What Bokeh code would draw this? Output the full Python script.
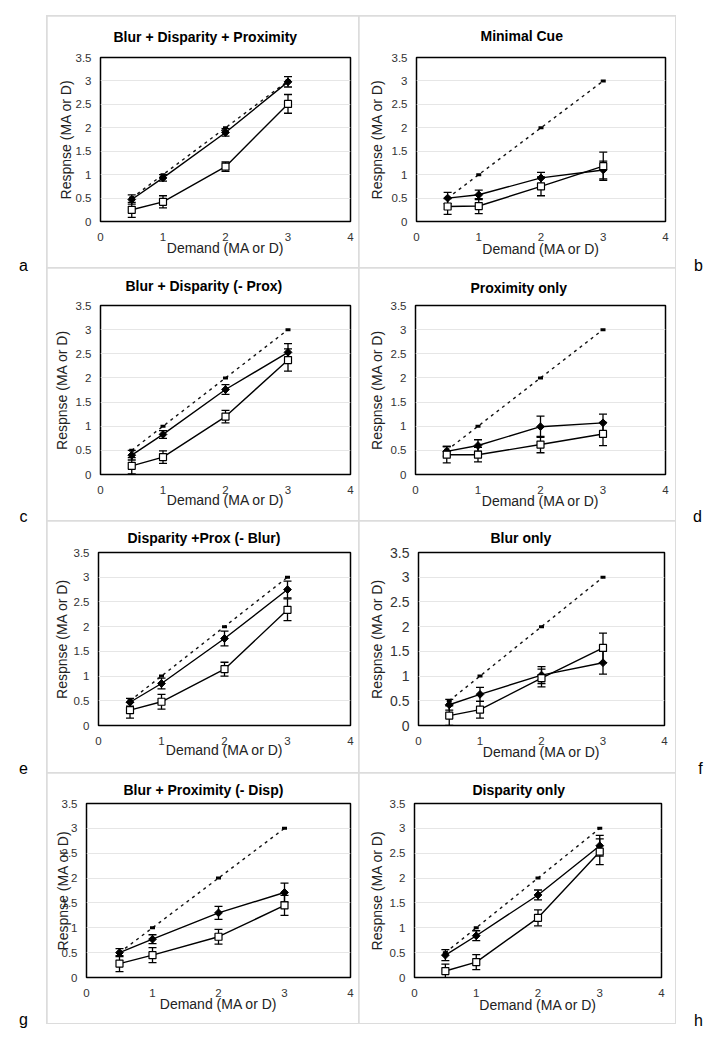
import math
from bokeh.plotting import figure
from bokeh.models import (Range1d, FixedTicker, NumeralTickFormatter, Label,
                          Whisker, TeeHead, ColumnDataSource)
from bokeh.layouts import column, row
from bokeh.embed import file_html
from bokeh.resources import INLINE

# ---------------- data ----------------
demand = [0.5, 1, 2, 3]
ideal = [0.5, 1, 2, 3]
x_ticks = [0, 1, 2, 3, 4]
y_ticks = [0, 0.5, 1, 1.5, 2, 2.5, 3, 3.5]

titles = ["Blur + Disparity + Proximity", "Minimal Cue",
          "Blur + Disparity (- Prox)", "Proximity only",
          "Disparity +Prox (- Blur)", "Blur only",
          "Blur + Proximity (- Disp)", "Disparity only"]
letters = ["a", "b", "c", "d", "e", "f", "g", "h"]
x_label = "Demand (MA or D)"
y_label = "Respnse (MA or D)"

a_filled = [0.47, 0.93, 1.90, 2.98]
a_filled_err = [0.10, 0.07, 0.08, 0.11]
a_open = [0.25, 0.42, 1.17, 2.51]
a_open_err = [0.16, 0.13, 0.10, 0.20]

b_filled = [0.50, 0.57, 0.93, 1.10]
b_filled_err = [0.12, 0.10, 0.12, 0.19]
b_open = [0.32, 0.33, 0.75, 1.18]
b_open_err = [0.17, 0.16, 0.20, 0.30]

c_filled = [0.40, 0.83, 1.76, 2.53]
c_filled_err = [0.10, 0.08, 0.10, 0.18]
c_open = [0.18, 0.36, 1.20, 2.37]
c_open_err = [0.17, 0.13, 0.13, 0.23]

d_filled = [0.48, 0.60, 0.99, 1.07]
d_filled_err = [0.10, 0.12, 0.22, 0.18]
d_open = [0.41, 0.41, 0.62, 0.84]
d_open_err = [0.17, 0.15, 0.17, 0.24]

e_filled = [0.47, 0.85, 1.76, 2.75]
e_filled_err = [0.08, 0.11, 0.15, 0.17]
e_open = [0.31, 0.48, 1.14, 2.34]
e_open_err = [0.16, 0.15, 0.14, 0.22]

f_filled = [0.42, 0.63, 1.02, 1.27]
f_filled_err = [0.11, 0.14, 0.17, 0.23]
f_open = [0.20, 0.32, 0.96, 1.57]
f_open_err = [0.20, 0.17, 0.18, 0.30]

g_filled = [0.50, 0.77, 1.30, 1.71]
g_filled_err = [0.08, 0.09, 0.13, 0.19]
g_open = [0.28, 0.45, 0.82, 1.45]
g_open_err = [0.16, 0.15, 0.15, 0.20]

h_filled = [0.45, 0.84, 1.66, 2.65]
h_filled_err = [0.11, 0.10, 0.10, 0.21]
h_open = [0.13, 0.31, 1.20, 2.53]
h_open_err = [0.14, 0.15, 0.16, 0.26]

series = [
    (a_filled, a_filled_err, a_open, a_open_err),
    (b_filled, b_filled_err, b_open, b_open_err),
    (c_filled, c_filled_err, c_open, c_open_err),
    (d_filled, d_filled_err, d_open, d_open_err),
    (e_filled, e_filled_err, e_open, e_open_err),
    (f_filled, f_filled_err, f_open, f_open_err),
    (g_filled, g_filled_err, g_open, g_open_err),
    (h_filled, h_filled_err, h_open, h_open_err),
]

# ---------------- layout (page pixel positions, origin at top-left) ----------------
FONT = "Liberation Sans"
GRID_COLOR = "#dcdcdc"
PAGE_H = 1041
LEFT_W, MID_W, RIGHT_W = 47, 628, 35
TOP_GAP = 16
col_x = [47, 359]          # page x of left / right cell
col_w = [311, 316]
row_y = [16, 268, 521, 773]  # page y of each cell row
row_h = [251, 252, 251, 250]

# frame box (page px), title left edge offset from frame, title standoff,
# x/y axis label standoffs, y tick font size
specs = [
    dict(frame=(100, 55, 350, 221), t_off=13, t_so=22, xl_so=-4, yl_so=-1, ytick="11.5px"),
    dict(frame=(416, 56, 665, 221), t_off=64, t_so=23, xl_so=-3, yl_so=4, ytick="11.5px"),
    dict(frame=(100, 305, 350, 475), t_off=25, t_so=19, xl_so=-5, yl_so=3, ytick="11.5px"),
    dict(frame=(415, 303, 665, 474), t_off=55, t_so=16, xl_so=-4, yl_so=3, ytick="11.5px"),
    dict(frame=(98, 552, 350, 728), t_off=29, t_so=10, xl_so=-6, yl_so=1, ytick="11.5px"),
    dict(frame=(418, 552, 664, 725), t_off=72, t_so=10, xl_so=-4, yl_so=2, ytick="14px"),
    dict(frame=(86, 803, 350, 978), t_off=37, t_so=8, xl_so=-4, yl_so=-12, ytick="11.5px"),
    dict(frame=(414, 803, 661, 977), t_off=58, t_so=8, xl_so=-3, yl_so=2, ytick="11.5px"),
]

# letter positions (page px: centre x, baseline y)
left_letter_pos = [(23, 265), (23, 516), (23, 767), (23, 1019)]
right_letter_pos = [(698, 265), (697, 516), (700, 768), (698, 1020)]


def make_panel(i):
    r, c = divmod(i, 2)
    fx, fy, W, H = col_x[c], row_y[r], col_w[c], row_h[r]
    s = specs[i]
    fl, ft, fr, fb = s["frame"]
    p = figure(width=W, height=H, x_range=Range1d(0, 4), y_range=Range1d(0, 3.5),
               output_backend="svg", toolbar_location=None, title=titles[i],
               min_border_left=fl - fx, min_border_right=fx + W - fr,
               min_border_top=ft - fy, min_border_bottom=fy + H - fb)
    p.outline_line_color = "black"
    p.outline_line_width = 1.5
    p.background_fill_color = "white"
    p.border_fill_color = "white"

    p.title.align = "left"
    p.title.offset = s["t_off"]
    p.title.standoff = s["t_so"]
    p.title.vertical_align = "top"
    p.title.text_font = FONT
    p.title.text_font_size = "14px"
    p.title.text_font_style = "bold"
    p.title.text_color = "black"

    p.xgrid.visible = False
    p.ygrid.ticker = FixedTicker(ticks=y_ticks)
    p.ygrid.grid_line_color = "#e6e6e6"
    p.ygrid.grid_line_width = 1
    p.xaxis.ticker = FixedTicker(ticks=x_ticks)
    p.yaxis.ticker = FixedTicker(ticks=y_ticks)
    p.yaxis.formatter = NumeralTickFormatter(format="0.[0]")
    for ax in p.axis:
        ax.axis_line_color = None
        ax.major_tick_line_color = None
        ax.minor_tick_line_color = None
        ax.major_tick_in = 0
        ax.major_tick_out = 0
        ax.minor_tick_in = 0
        ax.minor_tick_out = 0
        ax.major_label_text_font = FONT
        ax.major_label_text_color = "#333333"
        ax.axis_label_text_font = FONT
        ax.axis_label_text_font_size = "14px"
        ax.axis_label_text_font_style = "normal"
        ax.axis_label_text_color = "#222222"
    p.xaxis.major_label_text_font_size = "11.5px"
    p.yaxis.major_label_text_font_size = s["ytick"]
    p.xaxis.major_label_standoff = 11
    p.yaxis.major_label_standoff = 9
    p.xaxis.axis_label = x_label
    p.yaxis.axis_label = y_label
    p.xaxis.axis_label_standoff = s["xl_so"]
    p.yaxis.axis_label_standoff = s["yl_so"]

    filled, filled_err, opn, opn_err = series[i]

    # ideal (demand) line
    p.line(demand, ideal, line_dash="3 4", line_width=1.4, line_color="#111111")
    p.scatter(demand, ideal, marker="dash", size=5, line_width=3, line_color="black")

    # error bars
    for vals, errs in ((filled, filled_err), (opn, opn_err)):
        src = ColumnDataSource(dict(x=demand,
                                    lo=[v - e for v, e in zip(vals, errs)],
                                    hi=[v + e for v, e in zip(vals, errs)]))
        p.add_layout(Whisker(source=src, base="x", lower="lo", upper="hi",
                             dimension="height", line_color="black", line_width=1.3,
                             upper_head=TeeHead(size=8, line_width=1.3, line_color="black"),
                             lower_head=TeeHead(size=8, line_width=1.3, line_color="black"),
                             level="underlay"))

    p.line(demand, filled, line_width=1.4, line_color="black")
    p.scatter(demand, filled, marker="square", angle=math.pi / 4, size=5.5,
              fill_color="black", line_color="black")
    p.line(demand, opn, line_width=1.4, line_color="black")
    p.scatter(demand, opn, marker="square", size=7, fill_color="white",
              line_color="black", line_width=1.2)
    return p


def blank_fig(width, height):
    """A plain, transparent figure used only as a spacer / letter holder."""
    f = figure(width=width, height=height, output_backend="svg",
               toolbar_location=None, x_axis_location=None, y_axis_location=None,
               min_border=0, x_range=Range1d(0, 1), y_range=Range1d(0, 1))
    f.min_border_left = f.min_border_right = 0
    f.min_border_top = f.min_border_bottom = 0
    f.outline_line_color = None
    f.background_fill_color = None
    f.border_fill_color = None
    f.grid.visible = False
    return f


def letter_fig(labels, positions, page_x, width):
    f = blank_fig(width, PAGE_H)
    for lab, (cx, by) in zip(labels, positions):
        f.add_layout(Label(x=cx - page_x, y=by, x_units="canvas", y_units="canvas",
                           text=lab, text_font=FONT, text_font_size="16px",
                           text_align="center", text_baseline="alphabetic",
                           text_color="black"))
    return f


panels = [make_panel(i) for i in range(8)]
grid = column(
    row(panels[0], panels[1], spacing=1),
    row(panels[2], panels[3], spacing=1),
    row(panels[4], panels[5], spacing=1),
    row(panels[6], panels[7], spacing=1),
    spacing=1,
    styles={"background-color": GRID_COLOR, "outline": "1px solid " + GRID_COLOR},
)
top_gap = blank_fig(MID_W, TOP_GAP)
middle = column(top_gap, grid, spacing=0)
left_letters = letter_fig(letters[0::2], left_letter_pos, 0, LEFT_W)
right_letters = letter_fig(letters[1::2], right_letter_pos, LEFT_W + MID_W, RIGHT_W)
page = row(left_letters, middle, right_letters, spacing=0)

open("out.html", "w").write(file_html(page, INLINE))
